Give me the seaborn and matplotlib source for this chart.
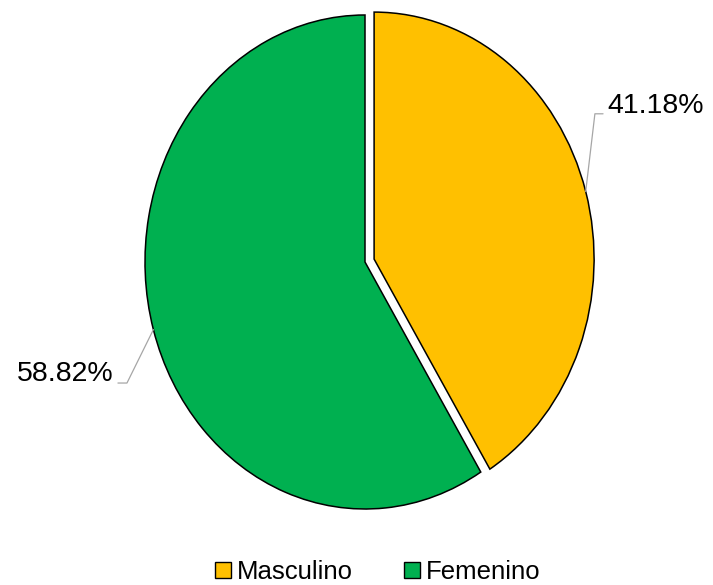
import numpy as np
import matplotlib
matplotlib.use("Agg")
import matplotlib.pyplot as plt
import seaborn as sns
from matplotlib.patches import Patch

categories = ["Masculino", "Femenino"]
values = [41.18, 58.82]
labels = ["41.18%", "58.82%"]
colors = ["#FFC000", "#00B050"]

sns.set_theme(style="white")
plt.rcParams["font.family"] = ["Liberation Sans", "DejaVu Sans"]
plt.rcParams["text.color"] = "black"
plt.rcParams["legend.labelcolor"] = "black"

W, H = 713, 585
fig = plt.figure(figsize=(W / 100, H / 100), dpi=100)
cx, cy, rx, ry = 365, 262, 220, 247
ax = fig.add_axes([(cx - rx) / W, (H - cy - ry) / H, 2 * rx / W, 2 * ry / H])

explode = [0.043, 0.0]
wedges, _ = ax.pie(values, colors=colors, startangle=90, counterclock=False,
                   explode=explode, radius=1.0,
                   wedgeprops=dict(edgecolor="black", linewidth=1.1))
for w in wedges:
    w.set_clip_on(False)
ax.set_aspect("auto")
ax.set_xlim(-1, 1)
ax.set_ylim(-1, 1)
ax.axis("off")

# label layout: (elbow, line end, text pos, ha)
layout = [
    ((1.045, 0.600), (1.082, 0.600), (1.10, 0.632), "left"),
    ((-1.082, -0.490), (-1.123, -0.490), (-1.145, -0.453), "right"),
]
for w, ex, lab, (elb, end, tpos, ha) in zip(wedges, explode, labels, layout):
    mid = np.deg2rad((w.theta1 + w.theta2) / 2)
    ox, oy = ex * np.cos(mid), ex * np.sin(mid)
    ax0 = np.cos(mid) + ox
    ay0 = np.sin(mid) + oy
    ax.plot([ax0, elb[0], end[0]], [ay0, elb[1], end[1]], color="#A6A6A6",
            lw=0.9, clip_on=False, zorder=3)
    ax.text(tpos[0], tpos[1], lab, ha=ha, va="center", fontsize=20.5, color="black")

handles = [Patch(facecolor=c, edgecolor="black", linewidth=1.0, label=l)
           for c, l in zip(colors, categories)]
fig.legend(handles=handles, loc="center", bbox_to_anchor=(378 / W, 1 - 572 / H),
           ncol=2, frameon=False, fontsize=18.5, handlelength=0.6, handleheight=0.6,
           handletextpad=0.25, columnspacing=2.0, borderaxespad=0, borderpad=0,
           labelcolor="black")

fig.savefig("out.png", dpi=100, facecolor="white")
